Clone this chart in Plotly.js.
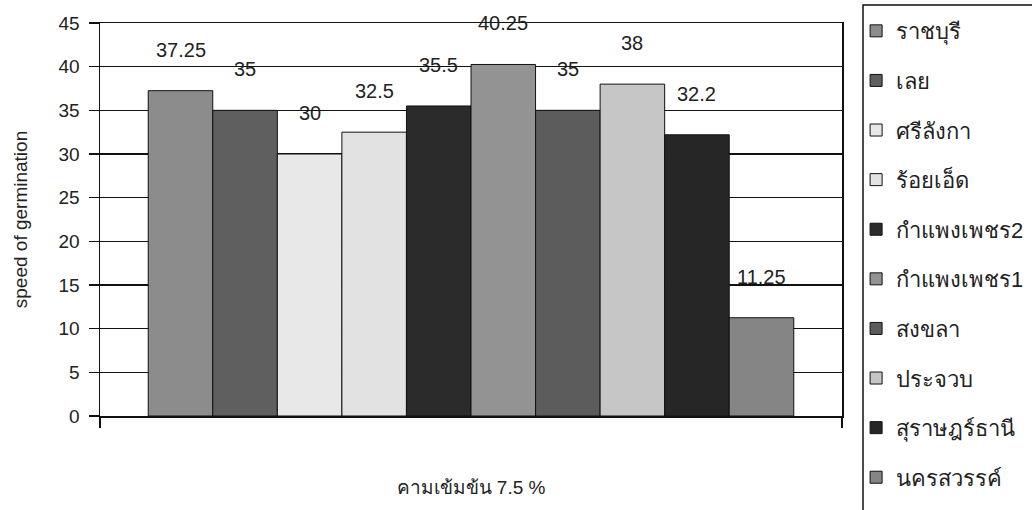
<!DOCTYPE html>
<html>
<head>
<meta charset="utf-8">
<script src="https://cdn.plot.ly/plotly-3.0.1.min.js"></script>
<style>html,body{margin:0;padding:0;background:#fff;}#chart{width:1032px;height:510px;}</style>
</head>
<body>
<div id="chart"></div>
<script>
const categories = [''];
const provinces = ['ราชบุรี','เลย','ศรีลังกา','ร้อยเอ็ด','กำแพงเพชร2','กำแพงเพชร1','สงขลา','ประจวบ','สุราษฎร์ธานี','นครสวรรค์'];
const speedValues = [37.25, 35, 30, 32.5, 35.5, 40.25, 35, 38, 32.2, 11.25];
const labelTexts = ['37.25','35','30','32.5','35.5','40.25','35','38','32.2','11.25'];
const barColors = ['#8c8c8c','#5f5f5f','#e8e8e8','#e2e2e2','#2b2b2b','#939393','#5c5c5c','#c6c6c6','#262626','#858585'];
const yTicks = [0,5,10,15,20,25,30,35,40,45];

const BARGAP = 0.13;
const n = provinces.length;
const w = (1 - BARGAP) / n;

const traces = provinces.map((p, i) => ({
  type: 'bar',
  name: p,
  x: categories,
  y: [speedValues[i]],
  legendgroup: 'g' + i,
  marker: {color: barColors[i], line: {color: '#111', width: 1}},
  hoverinfo: 'none'
}));

const annotations = provinces.map((p, i) => ({
  xref: 'x', yref: 'y',
  x: -0.5 + BARGAP / 2 + (i + 0.5) * w,
  y: speedValues[i],
  text: labelTexts[i],
  showarrow: false,
  yanchor: 'middle',
  yshift: 41,
  font: {family: 'Liberation Sans, Arial, sans-serif', size: 20, color: '#222'}
}));

const layout = {
  width: 1032, height: 510,
  paper_bgcolor: '#ffffff', plot_bgcolor: '#ffffff',
  margin: {l: 100, r: 190, t: 23, b: 94, autoexpand: false},
  barmode: 'group',
  bargap: BARGAP,
  bargroupgap: 0,
  showlegend: true,
  font: {family: 'Liberation Sans, Arial, sans-serif', size: 18, color: '#222'},
  xaxis: {
    type: 'category',
    showticklabels: false,
    ticks: 'outside', ticklen: 10, tickcolor: '#111', tickwidth: 1.5, tickson: 'boundaries',
    showline: true, linecolor: '#111', linewidth: 1.5, mirror: true,
    showgrid: false, zeroline: false,
    title: {text: 'คามเข้มข้น 7.5 %', font: {size: 19, color: '#222'}, standoff: 64},
    automargin: false
  },
  yaxis: {
    range: [0, 45],
    tickvals: yTicks,
    ticktext: yTicks.map(String),
    ticks: 'outside', ticklen: 10, tickcolor: '#111', tickwidth: 1.5,
    ticklabelstandoff: 5,
    showline: true, linecolor: '#111', linewidth: 1.5, mirror: true,
    showgrid: true, gridcolor: '#111', gridwidth: 1.5,
    zeroline: false,
    tickfont: {size: 19, color: '#222'},
    title: {text: 'speed of germination', font: {size: 19, color: '#222'}, standoff: 26},
    automargin: false
  },
  legend: {
    x: 1.019, xanchor: 'left',
    y: 1.033, yanchor: 'top',
    bgcolor: 'rgba(0,0,0,0)', borderwidth: 0,
    font: {size: 22, color: '#222'},
    tracegroupgap: 18,
    traceorder: 'grouped',
    itemwidth: 30,
    maxheight: 1000
  },
  shapes: [{
    type: 'rect', xref: 'paper', yref: 'paper',
    x0: 1.0283, x1: 1.4, y0: -0.4, y1: 1.046,
    line: {color: '#111', width: 1.5}, fillcolor: 'rgba(0,0,0,0)', layer: 'below'
  }],
  annotations: annotations
};

Plotly.newPlot('chart', traces, layout, {staticPlot: true, displayModeBar: false});
</script>
</body>
</html>
